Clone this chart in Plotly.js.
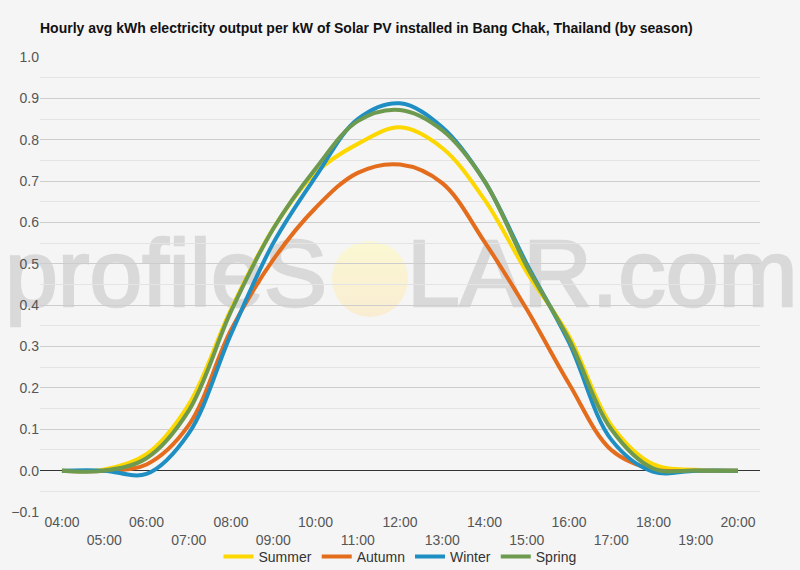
<!DOCTYPE html>
<html>
<head>
<meta charset="utf-8">
<script src="https://cdn.plot.ly/plotly-3.0.1.min.js"></script>
<style>
  html, body { margin: 0; padding: 0; background: #f5f5f5; }
  #wrap { position: relative; width: 800px; height: 570px; overflow: hidden; }
  #mark { position: absolute; left: 0; top: 0; width: 800px; height: 570px; }
  #mark span { position: absolute; top: 218px; font-family: "Liberation Sans", Arial, sans-serif;
               font-size: 95px; color: #d9d9d9; line-height: 110px; white-space: nowrap;
               -webkit-text-stroke: 2.5px #d9d9d9; }
  #mark .sun { position: absolute; left: 332px; top: 241px; width: 76px; height: 76px; border-radius: 50%;
               background: linear-gradient(#fbf8d2, #f9ecd2); }
  #chart { position: absolute; left: 0; top: 0; width: 800px; height: 570px; }
</style>
</head>
<body>
<div id="wrap">
  <div id="mark">
    <span style="left:5px">profileS</span>
    <div class="sun"></div>
    <span style="left:407px">LAR.com</span>
  </div>
  <div id="chart"></div>
</div>
<script>
// hours of the day 04:00 .. 20:00
const hours = [4, 5, 6, 7, 8, 9, 10, 11, 12, 13, 14, 15, 16, 17, 18, 19, 20];
const hourLabels = ['04:00', '05:00', '06:00', '07:00', '08:00', '09:00', '10:00', '11:00', '12:00',
                    '13:00', '14:00', '15:00', '16:00', '17:00', '18:00', '19:00', '20:00'];

const summer = [0, 0.003, 0.04, 0.16, 0.39, 0.585, 0.72, 0.79, 0.83, 0.78, 0.655, 0.48, 0.325, 0.11, 0.015, 0.002, 0];
const autumn = [0, 0, 0.015, 0.11, 0.34, 0.51, 0.635, 0.72, 0.74, 0.695, 0.553, 0.39, 0.21, 0.05, 0.003, 0, 0];
const winter = [0, 0, -0.008, 0.09, 0.33, 0.55, 0.71, 0.85, 0.888, 0.83, 0.70, 0.50, 0.31, 0.075, -0.003, 0, 0];
const spring = [0, 0, 0.03, 0.145, 0.385, 0.585, 0.73, 0.845, 0.872, 0.823, 0.70, 0.494, 0.317, 0.10, 0.005, 0, 0];

const seasons = ['Summer', 'Autumn', 'Winter', 'Spring'];
const colors = ['#fdd700', '#e36c1d', '#1f8fc3', '#6d9a4f'];
const values = [summer, autumn, winter, spring];

// odd hours go on a second row, like the original
const tickText = hourLabels.map((t, i) => i % 2 === 0 ? t : '<br>' + t);

const data = seasons.map((name, i) => ({
    x: hours,
    y: values[i],
    name: name,
    type: 'scatter',
    mode: 'lines',
    line: { color: colors[i], width: 4, shape: 'spline', smoothing: 1 },
    hoverinfo: 'x+y'
}));

const layout = {
    width: 800,
    height: 570,
    paper_bgcolor: 'rgba(0,0,0,0)',
    plot_bgcolor: 'rgba(0,0,0,0)',
    margin: { l: 40, r: 40, t: 57, b: 58 },
    font: { family: '"Liberation Sans", Arial, sans-serif', size: 14, color: '#555' },
    title: {
        text: '<b>Hourly avg kWh electricity output per kW of Solar PV installed in Bang Chak, Thailand (by season)</b>',
        font: { size: 14, color: '#111' },
        xref: 'paper', x: 0, xanchor: 'left',
        yref: 'container', y: 0.951, yanchor: 'middle'
    },
    xaxis: {
        range: [3.48, 20.52],
        tickvals: hours,
        ticktext: tickText,
        showgrid: false,
        zeroline: false,
        showline: false,
        ticks: '',
        automargin: false,
        fixedrange: true
    },
    yaxis: {
        range: [-0.1, 1.0],
        dtick: 0.1,
        tick0: 0,
        tickformat: '.1f',
        gridcolor: '#cdcdcd',
        gridwidth: 1,
        minor: { dtick: 0.05, showgrid: true, gridcolor: '#e4e4e4', gridwidth: 1 },
        zeroline: true,
        zerolinecolor: '#333',
        zerolinewidth: 1,
        ticks: '',
        automargin: false,
        fixedrange: true
    },
    showlegend: true,
    legend: {
        orientation: 'h',
        x: 0.5, xanchor: 'center',
        yref: 'container', y: 0.023, yanchor: 'middle',
        font: { size: 14, color: '#333' },
        bgcolor: 'rgba(0,0,0,0)'
    }
};

Plotly.newPlot('chart', data, layout, { displayModeBar: false });
</script>
</body>
</html>
